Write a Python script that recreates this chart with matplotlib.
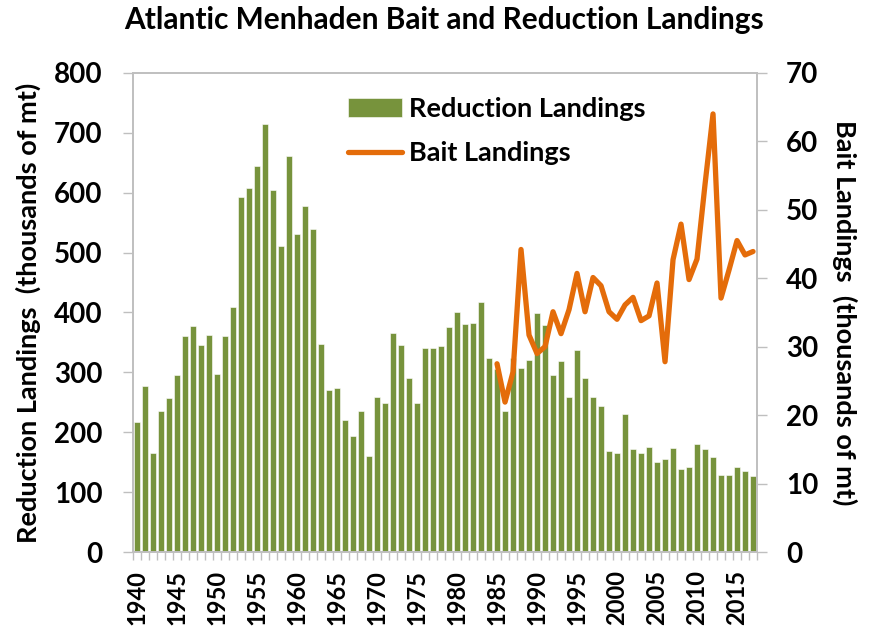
import matplotlib
matplotlib.use('Agg')
import matplotlib.pyplot as plt
import numpy as np

plt.rcParams['font.family'] = ['Lato', 'DejaVu Sans']
plt.rcParams['font.weight'] = 'bold'
plt.rcParams['axes.labelweight'] = 'bold'

# Reduction landings (thousands of mt), 1940-2017
years = list(range(1940, 2018))
reduction = [217, 277, 166, 236, 257, 295, 361, 378, 346, 363,
             297, 361, 409, 593, 608, 644, 715, 605, 511, 661,
             531, 578, 540, 347, 270, 274, 220, 194, 235, 161,
             259, 249, 365, 346, 291, 249, 340, 340, 344, 375,
             401, 381, 382, 418, 324, 306, 235, 324, 308, 320,
             399, 379, 295, 319, 258, 338, 291, 258, 244, 169,
             166, 231, 172, 165, 176, 151, 156, 173, 139, 142,
             181, 172, 159, 129, 129, 142, 135, 127]

# Bait landings (thousands of mt), 1985-2017
bait_years = list(range(1985, 2018))
bait = [27.5, 21.9, 26.3, 44.2, 31.7, 29.0, 30.0, 35.1, 31.9, 35.4,
        40.7, 35.1, 40.1, 38.9, 35.1, 34.0, 36.1, 37.2, 33.8, 34.5,
        39.3, 27.8, 42.7, 47.9, 39.8, 42.8, 53.7, 64.0, 37.1, 41.2,
        45.5, 43.4, 43.9]

green = '#77933C'
orange = '#E46C0A'
grey = '#BFBFBF'

fig = plt.figure(figsize=(8.88, 6.28), dpi=100)
ax = fig.add_axes([0.1498, 0.121, 0.7027, 0.763])
ax2 = ax.twinx()

bars = ax.bar(years, reduction, width=0.7, color=green, edgecolor='white',
              linewidth=0.4, label='Reduction Landings')
line, = ax2.plot(bait_years, bait, color=orange, linewidth=3.8,
                 solid_joinstyle='round', solid_capstyle='round',
                 label='Bait Landings')

ax.set_xlim(1939.5, 2017.5)
ax.set_ylim(0, 800)
ax2.set_ylim(0, 70)

ax.set_yticks(range(0, 801, 100))
ax2.set_yticks(range(0, 71, 10))
ax.set_xticks(range(1940, 2016, 5))
ax.set_xticklabels([str(y) for y in range(1940, 2016, 5)], rotation=90)
ax.set_xticks(np.arange(1939.5, 2018, 1), minor=True)

for a in (ax, ax2):
    for s in a.spines.values():
        s.set_color(grey)
        s.set_linewidth(1.2)
ax.tick_params(axis='x', which='major', length=0, pad=13, labelsize=17)
ax.tick_params(axis='x', which='minor', length=6, color=grey, width=1)
ax.tick_params(axis='y', length=7, color=grey, width=1, labelsize=20, pad=15)
ax2.tick_params(axis='y', length=7, color=grey, width=1, labelsize=20, pad=14)
for lab in ax.get_xticklabels() + ax.get_yticklabels() + ax2.get_yticklabels():
    lab.set_fontweight('bold')

ax.set_ylabel('Reduction Landings  (thousands of mt)', fontsize=19.5,
              fontweight='bold', labelpad=9)
ax2.set_ylabel('Bait Landings  (thousands of mt)', fontsize=19.5,
               fontweight='bold', rotation=270, labelpad=28)

fig.suptitle('Atlantic Menhaden Bait and Reduction Landings', fontsize=21.5,
             fontweight='bold', x=0.5, y=0.99)

leg = ax.legend([bars, line], ['Reduction Landings', 'Bait Landings'],
                loc='upper left', bbox_to_anchor=(0.345, 0.95), frameon=False,
                prop={'size': 19.5, 'weight': 'bold'}, handlelength=2.0,
                handletextpad=0.25, labelspacing=0.76, borderpad=0,
                borderaxespad=0)

fig.savefig('out.png', dpi=100)
